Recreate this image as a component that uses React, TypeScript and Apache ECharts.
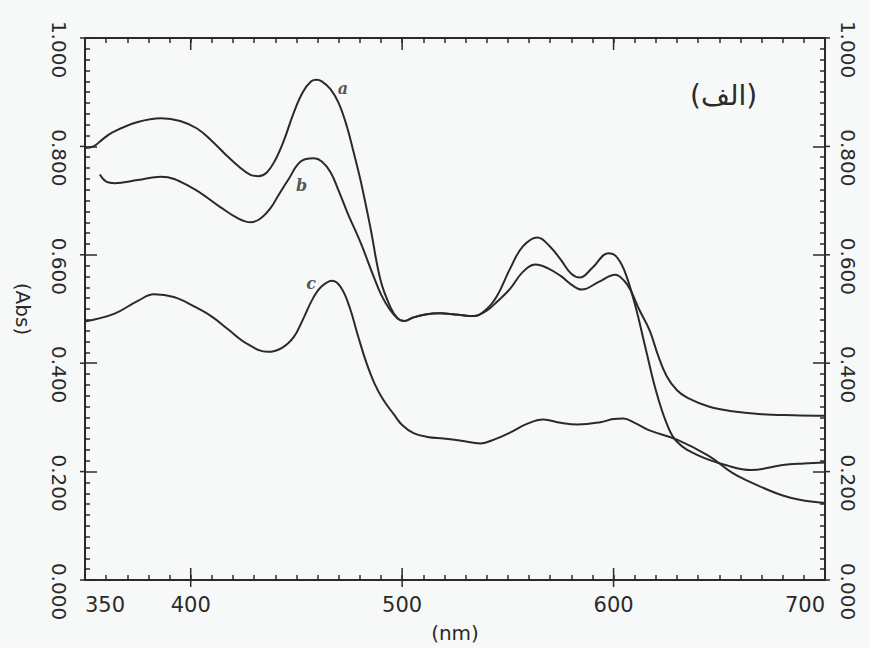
import React, { useEffect, useRef } from "react";
import * as echarts from "echarts";

// wavelength (nm) / absorbance pairs
const curveA: [number, number][] = [
  [350, 0.797], [354, 0.8], [358, 0.812], [363, 0.826], [375, 0.845], [386, 0.852],
  [395, 0.847], [403, 0.833], [410, 0.81], [416, 0.787], [423, 0.762], [428, 0.748],
  [432, 0.745], [436, 0.752], [440, 0.775], [444, 0.81], [448.7, 0.862], [453, 0.9],
  [457, 0.92], [459.5, 0.923], [462, 0.92], [466, 0.906], [470, 0.88], [474, 0.835],
  [477, 0.79], [480.4, 0.736], [485, 0.65], [489.8, 0.553], [494.5, 0.503],
  [498, 0.482], [501, 0.478], [505, 0.484], [511, 0.49], [518, 0.492], [525, 0.49],
  [534, 0.487], [540, 0.5], [545, 0.525], [551, 0.574], [557, 0.615], [564, 0.632],
  [570, 0.615], [575, 0.591], [580, 0.565], [584, 0.558], [590, 0.576], [597.5, 0.603],
  [601, 0.598], [605, 0.572], [610, 0.51], [615, 0.43], [620, 0.35], [625, 0.29],
  [630, 0.255], [640, 0.23], [654, 0.211], [665, 0.203], [680, 0.212], [690, 0.215],
  [700, 0.217],
];
const curveB: [number, number][] = [
  [357, 0.748], [360, 0.735], [364, 0.732], [375, 0.738], [386, 0.744], [400, 0.725],
  [414, 0.688], [422, 0.668], [428.4, 0.66], [433, 0.667], [437.9, 0.687],
  [441.5, 0.71], [445.9, 0.737], [452, 0.772], [458.2, 0.778], [462, 0.772],
  [466.2, 0.752], [470, 0.718], [474.2, 0.677], [480.4, 0.622], [486.5, 0.56],
  [490, 0.527], [494, 0.5], [498, 0.482], [501, 0.478], [505, 0.484], [511, 0.49],
  [518, 0.492], [525, 0.49], [534, 0.487], [540, 0.497], [545, 0.514], [551, 0.537],
  [557, 0.568], [563, 0.582], [569, 0.575], [575, 0.561], [580, 0.545], [585, 0.536],
  [593, 0.55], [600.8, 0.563], [605, 0.552], [608, 0.535], [612, 0.5], [617, 0.461],
  [621, 0.415], [625, 0.377], [630, 0.35], [635, 0.336], [645, 0.32], [655, 0.312],
  [670, 0.306], [685, 0.304], [700, 0.303],
];
const curveC: [number, number][] = [
  [350, 0.477], [363.7, 0.491], [375, 0.515], [382.6, 0.527], [392, 0.522],
  [401.5, 0.505], [410, 0.486], [417.5, 0.463], [427, 0.435], [436.4, 0.421],
  [443, 0.428], [448.7, 0.448], [453, 0.48], [458, 0.521], [462, 0.542],
  [467, 0.552], [471, 0.54], [475, 0.505], [479, 0.452], [483, 0.402], [487, 0.362],
  [491, 0.333], [496, 0.306], [500, 0.286], [505.4, 0.271], [512, 0.264],
  [519.6, 0.261], [528, 0.257], [537, 0.252], [544, 0.26], [551, 0.272], [559, 0.288],
  [566.8, 0.296], [575, 0.29], [583, 0.287], [593.7, 0.291], [600, 0.297],
  [604.6, 0.298], [610, 0.29], [617, 0.276], [630, 0.259], [645, 0.229], [656, 0.198],
  [665, 0.18], [672.6, 0.167], [680, 0.156], [688, 0.148], [700, 0.142],
];
const curveTags: [number, number, string][] = [
  [472, 0.906, "a"],
  [452.5, 0.727, "b"],
  [457, 0.547, "c"],
];
const xLabelValues = [350, 400, 500, 600, 700];
const xMajorTicks = [400, 500, 600];
const yMajorTicks = [0, 0.2, 0.4, 0.6, 0.8, 1];
const panelTitle = "(الف)";
const xName = "(nm)";
const yName = "(Abs)";

const INK = "#2a2a2a";

export default function App() {
  const ref = useRef<HTMLDivElement>(null);
  useEffect(() => {
    if (!ref.current) return;
    const chart = echarts.init(ref.current, null, { renderer: "svg" });
    const font = "DejaVu Sans";
    const X0 = 350, X1 = 700, Y0 = 0, Y1 = 1;
    const lineSeries = (name: string, data: [number, number][]) => ({
      name,
      type: "line",
      data,
      smooth: 0.4,
      symbol: "none",
      lineStyle: { color: INK, width: 2 },
      z: 3,
    });
    // anchors of the long frame ticks: [x, y, side] side 0 bottom, 1 top, 2 left, 3 right
    const majorTickData: number[][] = [];
    xMajorTicks.forEach((v) => {
      majorTickData.push([v, Y0, 0]);
      majorTickData.push([v, Y1, 1]);
    });
    yMajorTicks.forEach((v) => {
      majorTickData.push([X0, v, 2]);
      majorTickData.push([X1, v, 3]);
    });
    const baseX = { type: "value", min: X0, max: X1, interval: 50, splitLine: { show: false } };
    const baseY = { type: "value", min: Y0, max: Y1, interval: 0.2, splitLine: { show: false } };
    const xTicks = {
      axisLine: { show: true, onZero: false, lineStyle: { color: INK, width: 2 } },
      axisTick: { show: true, inside: true, length: 5, lineStyle: { color: INK, width: 1.5 } },
      minorTick: { show: true, splitNumber: 5, length: 5, lineStyle: { color: INK, width: 1.5 } },
    };
    const yTicks = {
      axisLine: { show: true, onZero: false, lineStyle: { color: INK, width: 2 } },
      axisTick: { show: true, inside: true, length: 12, lineStyle: { color: INK, width: 1.5 } },
      minorTick: { show: true, splitNumber: 10, length: 5, lineStyle: { color: INK, width: 1.5 } },
    };
    const yLabel = (margin: number, pad: number) => ({
      show: true,
      rotate: -90,
      fontFamily: font,
      fontSize: 20,
      color: INK,
      margin,
      padding: [0, 0, 0, pad],
      formatter: (v: number) => v.toFixed(3),
    });
    chart.setOption({
      animation: false,
      backgroundColor: "#f7f9f9",
      grid: { left: 85, right: 45, top: 38, bottom: 66 },
      xAxis: [
        {
          ...baseX,
          ...xTicks,
          position: "bottom",
          name: xName,
          nameLocation: "middle",
          nameGap: 43,
          nameTextStyle: { fontFamily: font, fontSize: 20, color: INK },
          axisLabel: {
            show: true,
            fontFamily: font,
            fontSize: 21,
            color: INK,
            margin: 14,
            alignMinLabel: "left",
            alignMaxLabel: "right",
            formatter: (v: number) => (xLabelValues.includes(Math.round(v)) ? String(Math.round(v)) : ""),
          },
        },
        {
          ...baseX,
          ...xTicks,
          position: "top",
          axisLabel: { show: false },
        },
      ],
      yAxis: [
        {
          ...baseY,
          ...yTicks,
          position: "left",
          name: yName,
          nameLocation: "middle",
          nameRotate: -90,
          nameGap: 52,
          nameTextStyle: { fontFamily: font, fontSize: 20, color: INK },
          axisLabel: yLabel(16, 23),
        },
        {
          ...baseY,
          ...yTicks,
          position: "right",
          axisLabel: yLabel(13, 23),
        },
      ],
      series: [
        lineSeries("a", curveA),
        lineSeries("b", curveB),
        lineSeries("c", curveC),
        {
          type: "custom",
          coordinateSystem: "cartesian2d",
          clip: false,
          silent: true,
          data: majorTickData,
          z: 5,
          renderItem: (_params: any, api: any) => {
            const p = api.coord([api.value(0), api.value(1)]);
            const side = api.value(2);
            let shape;
            if (side === 0) shape = { x1: p[0], y1: p[1] + 7, x2: p[0], y2: p[1] - 12 };
            else if (side === 1) shape = { x1: p[0], y1: p[1], x2: p[0], y2: p[1] + 12 };
            else if (side === 2) shape = { x1: p[0] - 5, y1: p[1], x2: p[0], y2: p[1] };
            else shape = { x1: p[0], y1: p[1], x2: p[0] + 5, y2: p[1] };
            return { type: "line", shape, style: { stroke: INK, lineWidth: 1.5 } };
          },
        },
        {
          type: "scatter",
          data: curveTags,
          symbolSize: 8,
          itemStyle: { color: "transparent" },
          label: {
            show: true,
            position: "inside",
            formatter: (p: any) => p.value[2],
            fontFamily: "DejaVu Serif",
            fontStyle: "italic",
            fontWeight: "bold",
            fontSize: 16,
            color: INK,
          },
          z: 4,
        },
      ],
      graphic: [
        {
          type: "text",
          left: 690,
          top: 81,
          style: { text: panelTitle, fontFamily: font, fontSize: 28, fill: INK },
        },
      ],
    });
    return () => chart.dispose();
  }, []);
  return (
    <div
      ref={ref}
      style={{ position: "absolute", left: 0, top: 0, width: 870, height: 648 }}
    />
  );
}
